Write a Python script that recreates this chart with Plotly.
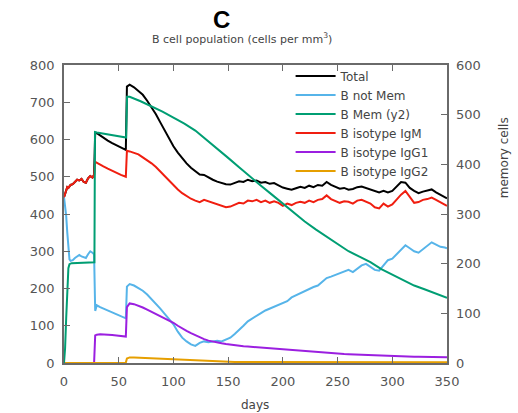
import plotly.graph_objects as go

# ---- data ----
DAYS = [0, 1, 2, 3, 4, 5, 6, 8, 10, 12, 14, 16, 18, 20, 22, 24, 26, 27.5, 28.5, 30, 33, 36, 40, 44, 48, 52, 56.5, 57.5,
        60, 64, 68, 72, 76, 80, 84, 88, 92, 96, 100, 104, 108, 112, 116, 120, 124, 128, 132, 136, 140, 144, 148,
        152, 156, 160, 164, 168, 172, 176, 180, 184, 188, 192, 196, 200, 204, 208, 212, 216, 220, 224, 228, 232,
        236, 240, 244, 248, 252, 256, 260, 264, 268, 272, 276, 280, 284, 288, 292, 296, 300, 304, 308, 312, 316,
        320, 324, 328, 332, 336, 340, 344, 348, 350]

TOTAL = [445, 455, 462, 472, 470, 476, 478, 480, 486, 492, 490, 494, 486, 484, 496, 502, 498, 505, 618, 617, 611, 604, 597, 590, 584, 578, 572, 742,
         747, 740, 731, 720, 704, 686, 668, 646, 624, 602, 582, 565, 550, 536, 524, 514, 506, 505, 498, 492, 487, 483, 480,
         479, 484, 488, 486, 492, 488, 490, 484, 486, 481, 483, 477, 471, 468, 465, 469, 473, 470, 476, 472, 478,
         476, 486, 478, 474, 468, 470, 465, 467, 472, 474, 470, 466, 460, 458, 462, 458, 462, 474, 486, 484, 470,
         462, 456, 460, 462, 466, 458, 452, 446, 442]

NOT_MEM = [445, 420, 395, 350, 300, 278, 274, 276, 282, 286, 290, 286, 284, 282, 292, 300, 296, 292, 140, 155, 150, 146, 141, 136, 130, 125, 120, 205,
           212, 208, 202, 194, 184, 172, 160, 146, 132, 118, 104, 84, 68, 58, 50, 46, 54, 58, 56, 58, 60, 58, 62,
           68, 78, 88, 100, 112, 120, 128, 134, 141, 146, 150, 156, 160, 166, 176, 182, 188, 194, 198, 204, 208,
           218, 228, 232, 236, 240, 244, 250, 244, 252, 262, 266, 258, 250, 248, 262, 276, 280, 292, 306, 316, 308,
           300, 296, 306, 316, 324, 318, 312, 310, 308]

IGM = [445, 455, 462, 472, 470, 476, 478, 480, 486, 492, 490, 494, 486, 484, 496, 502, 498, 505, 540, 538, 533, 528, 522, 516, 510, 505, 500, 570,
       568, 565, 560, 552, 545, 536, 526, 514, 502, 490, 477, 466, 456, 448, 441, 436, 432, 438, 434, 428, 426, 422, 418,
       420, 426, 430, 428, 436, 434, 438, 432, 436, 430, 434, 430, 422, 428, 424, 430, 433, 430, 436, 432, 438,
       440, 450, 440, 436, 430, 434, 433, 428, 436, 438, 432, 428, 418, 415, 428, 420, 426, 440, 452, 462, 445,
       430, 432, 438, 440, 444, 438, 432, 426, 422]

IGG1 = [0, 0, 0, 0, 0, 0, 0, 0, 0, 0, 0, 0, 0, 0, 0, 0, 0, 0, 74, 76, 77, 77, 76, 75, 74, 72, 71, 150,
        160, 158, 154, 149, 143, 137, 131, 126, 121, 114, 108, 100, 92, 86, 80, 74, 69, 64, 60, 57, 55, 53, 51,
        49, 48, 46, 45, 44, 43, 42, 41, 40, 39, 38, 37, 36, 35, 34, 33, 32, 31, 30, 29, 28,
        27.5, 27, 26, 25.5, 25, 24, 23.5, 23, 22, 21.5, 21, 20, 19.5, 19, 18.5, 18.5, 18, 18, 17.5, 17.5, 17,
        17, 17, 16.5, 16.5, 16, 16, 16, 16, 15.5]

IGG2 = [0, 0, 0, 0, 0, 0, 0, 0, 0, 0, 0, 0, 0, 0, 0, 0, 0, 0, 1, 1, 1, 1, 1, 1, 1, 1, 1, 12,
        15, 15, 14.5, 14, 13.5, 13, 12, 11.5, 11, 10.5, 10, 9, 8, 7, 6.5, 6, 5.5, 5, 4.5, 4, 4, 3.5, 3.5,
        3, 3, 3, 3, 3, 3, 3, 3, 3, 3, 3, 3, 3, 2.5, 2.5, 2.5, 2.5, 2.5, 2.5, 2.5, 2.5,
        2.5, 2.5, 2.5, 2.5, 2.5, 2.5, 2.5, 2, 2, 2, 2, 2, 2, 2, 2, 2, 2, 2, 2, 2, 2,
        2, 2, 2, 2, 2, 2, 2, 2, 2]

MEM_DAYS = [0, 1, 2, 3, 4, 5, 7, 27.8, 28.3, 30, 40, 50, 56.8, 57.6,
            60, 70, 80, 90, 100, 110, 120, 130, 140, 150, 160, 170, 180, 190, 200, 210, 220, 230, 240, 250,
            260, 270, 280, 290, 300, 310, 320, 330, 340, 350]
MEM = [0, 30, 90, 165, 191, 199, 201, 203, 465, 464, 460, 456, 454, 536,
       536, 527, 517, 506, 494, 482, 468, 450, 431, 413, 394, 375, 357, 339, 321, 303, 285, 269, 254, 239,
       225, 214, 203, 189, 178, 167, 156, 148, 140, 131]

X_TICKS = [0, 50, 100, 150, 200, 250, 300, 350]
Y_TICKS = [0, 100, 200, 300, 400, 500, 600, 700, 800]
Y2_TICKS = [0, 100, 200, 300, 400, 500, 600]

SERIES = [
    ("Total", DAYS, TOTAL, "#000000", "y"),
    ("B not Mem", DAYS, NOT_MEM, "#56B4E9", "y"),
    ("B Mem (y2)", MEM_DAYS, MEM, "#009E73", "y2"),
    ("B isotype IgM", DAYS, IGM, "#F01E10", "y"),
    ("B isotype IgG1", DAYS, IGG1, "#9B1FE0", "y"),
    ("B isotype IgG2", DAYS, IGG2, "#E69F00", "y"),
]

fig = go.Figure()
for name, xs, ys, color, ax in SERIES:
    fig.add_trace(go.Scatter(x=xs, y=ys, name=name, mode="lines", yaxis=ax,
                             line=dict(color=color, width=2)))

AX_COL = "#6a6a6a"
TICK_FONT = dict(family="DejaVu Sans", size=13, color="#555555")

fig.update_layout(
    width=518, height=413,
    margin=dict(l=64, r=71, t=65, b=50),
    paper_bgcolor="white", plot_bgcolor="white",
    font=dict(family="DejaVu Sans", color="#444444"),
    xaxis=dict(range=[0, 350], tickvals=X_TICKS, ticks="inside", ticklen=6, tickcolor=AX_COL,
               showline=True, linecolor=AX_COL, linewidth=1.5, mirror="ticks",
               showgrid=False, zeroline=False, tickfont=TICK_FONT, ticklabelstandoff=6),
    yaxis=dict(range=[0, 800], tickvals=Y_TICKS, ticks="inside", ticklen=6, tickcolor=AX_COL,
               showline=True, linecolor=AX_COL, linewidth=1.5, mirror=True,
               showgrid=False, zeroline=False, tickfont=TICK_FONT, ticklabelstandoff=5),
    yaxis2=dict(range=[0, 600], tickvals=Y2_TICKS, overlaying="y", side="right", ticks="inside",
                ticklen=6, tickcolor=AX_COL, showline=False, showgrid=False, zeroline=False,
                tickfont=TICK_FONT, ticklabelstandoff=8),
    legend=dict(x=0.965, xanchor="right", y=1.012, yanchor="top", bgcolor="rgba(0,0,0,0)",
                font=dict(family="DejaVu Sans", size=12, color="#444444"), itemwidth=40,
                tracegroupgap=0),
    showlegend=True,
)

fig.add_annotation(text="<b>C</b>", xref="paper", yref="paper", x=0.4125, y=1.154,
                   xanchor="center", yanchor="middle", showarrow=False,
                   font=dict(family="Liberation Sans", size=24, color="#000000"))
fig.add_annotation(text="B cell population (cells per mm<sup>3</sup>)", xref="paper", yref="paper",
                   x=0.465, y=1.09, xanchor="center", yanchor="middle", showarrow=False,
                   font=dict(family="DejaVu Sans", size=11, color="#444444"))
fig.add_annotation(text="days", xref="paper", yref="paper", x=0.4987, y=-0.141,
                   xanchor="center", yanchor="middle", showarrow=False,
                   font=dict(family="DejaVu Sans", size=12, color="#444444"))
fig.add_annotation(text="memory cells", xref="paper", yref="paper", x=1.151, y=0.69,
                   xanchor="center", yanchor="middle", showarrow=False, textangle=-90,
                   font=dict(family="DejaVu Sans", size=12, color="#444444"))

fig.write_html("out.html")
